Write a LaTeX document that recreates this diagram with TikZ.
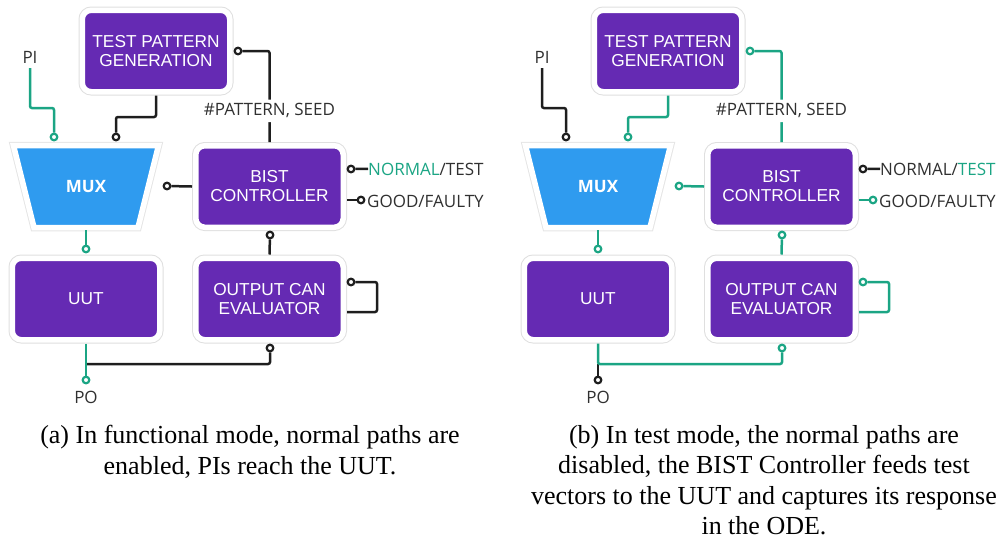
\documentclass[tikz,border=0pt]{standalone}
\usepackage{fontspec}
\setmainfont{Liberation Serif}
\newfontfamily\boxfont{Liberation Sans}
\newfontfamily\labfont{Open Sans}
\usepackage{tikz}
\usetikzlibrary{positioning}
\usepackage{xcolor}

\definecolor{purp}{HTML}{652AB3}
\definecolor{muxblue}{HTML}{2F9BEF}
\definecolor{grn}{HTML}{1BA584}
\definecolor{wblk}{HTML}{1E1E1E}
\definecolor{labgray}{HTML}{303030}

\tikzset{
  blk/.style={rectangle, rounded corners=9,
    fill=purp, draw=white, line width=5.5,
    preaction={draw=gray!25, line width=7.5},
    minimum width=147.5, minimum height=81.5, outer sep=3.75,
    text=white, align=center,
    font=\boxfont\fontsize{17.3}{19}\selectfont},
  muxs/.style={fill=muxblue, draw=white, line width=5.5,
    preaction={draw=gray!20, line width=7.5}},
  muxlab/.style={minimum width=152, minimum height=87, inner sep=0,
    text=white, font=\labfont\bfseries\fontsize{17}{19}\selectfont},
  port/.style={circle, draw, fill=white, line width=2.2,
    minimum size=6.6, inner sep=0},
  wire/.style={line width=2.5, rounded corners=2},
  lab/.style={text=labgray, inner sep=2,
    font=\labfont\fontsize{17}{19}\selectfont},
  captxt/.style={align=center, inner sep=0,
    font=\fontsize{26}{30.5}\selectfont}
}

\begin{document}
\begin{tikzpicture}[x=1pt,y=-1pt]
\useasboundingbox (0,0) rectangle (1001,539);

% (a) functional mode
\node[blk] (tpga) at (156,51) {TEST PATTERN\\GENERATION};
\draw[muxs] (13.5,145.5) -- (158.5,145.5) -- (138,227.5) -- (34,227.5) -- cycle;
\node[muxlab] (muxa) at (86,186.5) {MUX};
\node[blk] (bista) at (269.5,186.5) {BIST\\CONTROLLER};
\node[blk] (uuta) at (86,299) {UUT};
\node[blk] (ocea) at (269.5,299) {OUTPUT CAN\\EVALUATOR};

\node[lab, anchor=base] (pia) at (30,63) {PI};
\node[lab, anchor=base] (poa) at (86,403) {PO};
\node[lab, anchor=base west, inner sep=0] (nta) at (368,175) {\textcolor{grn}{NORMAL}/TEST};
\node[lab, anchor=base west, inner sep=0] (gfa) at (367,207) {GOOD/FAULTY};

\node[port, draw=grn] (ppia) at (54,137) {};
\node[port, draw=wblk] (ptma) at (116,137) {};
\node[port, draw=grn] (pmua) at (86,249) {};
\node[port, draw=grn] (ppoa) at (86,380) {};
\node[port, draw=wblk] (poca) at (270,348) {};
\node[port, draw=wblk] (pbma) at (167,186) {};
\node[port, draw=wblk] (pbta) at (238,51) {};
\node[port, draw=wblk] (pnta) at (351,169) {};
\node[port, draw=wblk] (pgfa) at (361,200) {};
\node[port, draw=wblk] (pboa) at (270,235) {};
\node[port, draw=wblk] (plpa) at (351,282) {};
\coordinate (ja) at (86,364);

% Wires
\draw[wire, grn] ([yshift=-3pt]pia.south) |- (54,108) -- (ppia);
\draw[wire, wblk] (tpga.south) |- (116,117) -- (ptma);
\draw[wire, grn] (muxa.south) -- (pmua);
\draw[wire, wblk] (ja) -| (poca);
\draw[wire, grn] (uuta.south) -- (ppoa);
\draw[wire, wblk] (bista.west) -- (pbma);
\draw[wire, wblk] (bista.north) -- node[lab, fill=white, pos=.342, inner sep=4]{\#PATTERN, SEED} (bista.north |- pbta) -- (pbta);
\draw[wire, wblk] (pnta) -- (nta.west);
\draw[wire, wblk] (bista.east |- pgfa) -- (pgfa);
\draw[wire, wblk] (ocea.north) -- (pboa);
\draw[wire, wblk] (plpa) -| (377,312) -- ([yshift=-13pt]ocea.east);

\node[captxt, anchor=north] (capa) at (250,425) {(a) In functional mode, normal paths are\\enabled, PIs reach the UUT.};

% (b) test mode
\begin{scope}[xshift=512pt]
\node[blk] (tpgb) at (156,51) {TEST PATTERN\\GENERATION};
\draw[muxs] (13.5,145.5) -- (158.5,145.5) -- (138,227.5) -- (34,227.5) -- cycle;
\node[muxlab] (muxb) at (86,186.5) {MUX};
\node[blk] (bistb) at (269.5,186.5) {BIST\\CONTROLLER};
\node[blk] (uutb) at (86,299) {UUT};
\node[blk] (oceb) at (269.5,299) {OUTPUT CAN\\EVALUATOR};

\node[lab, anchor=base] (pib) at (30,63) {PI};
\node[lab, anchor=base] (pob) at (86,403) {PO};
\node[lab, anchor=base west, inner sep=0] (ntb) at (368,175) {NORMAL/\textcolor{grn}{TEST}};
\node[lab, anchor=base west, inner sep=0] (gfb) at (367,207) {GOOD/FAULTY};

\node[port, draw=wblk] (ppib) at (54,137) {};
\node[port, draw=grn] (ptmb) at (116,137) {};
\node[port, draw=grn] (pmub) at (86,249) {};
\node[port, draw=wblk] (ppob) at (86,380) {};
\node[port, draw=grn] (pocb) at (270,348) {};
\node[port, draw=grn] (pbmb) at (167,186) {};
\node[port, draw=grn] (pbtb) at (238,51) {};
\node[port, draw=wblk] (pntb) at (351,169) {};
\node[port, draw=grn] (pgfb) at (361,200) {};
\node[port, draw=grn] (pbob) at (270,235) {};
\node[port, draw=grn] (plpb) at (351,282) {};
\coordinate (jb) at (86,364);

% Wires
\draw[wire, wblk] ([yshift=-3pt]pib.south) |- (54,108) -- (ppib);
\draw[wire, grn] (tpgb.south) |- (116,117) -- (ptmb);
\draw[wire, grn] (muxb.south) -- (pmub);
\draw[wire, wblk] (jb) -- (ppob);
\draw[wire, grn] (uutb.south) -- (jb) -| (pocb);
\draw[wire, grn] (bistb.west) -- (pbmb);
\draw[wire, grn] (bistb.north) -- node[lab, fill=white, pos=.342, inner sep=4]{\#PATTERN, SEED} (bistb.north |- pbtb) -- (pbtb);
\draw[wire, wblk] (pntb) -- (ntb.west);
\draw[wire, grn] (bistb.east |- pgfb) -- (pgfb);
\draw[wire, grn] (oceb.north) -- (pbob);
\draw[wire, grn] (plpb) -| (377,312) -- ([yshift=-13pt]oceb.east);
\end{scope}

\node[captxt, anchor=north] (capb) at (764,425) {(b) In test mode, the normal paths are\\disabled, the BIST Controller feeds test\\vectors to the UUT and captures its response\\in the ODE.};
\end{tikzpicture}
\end{document}
